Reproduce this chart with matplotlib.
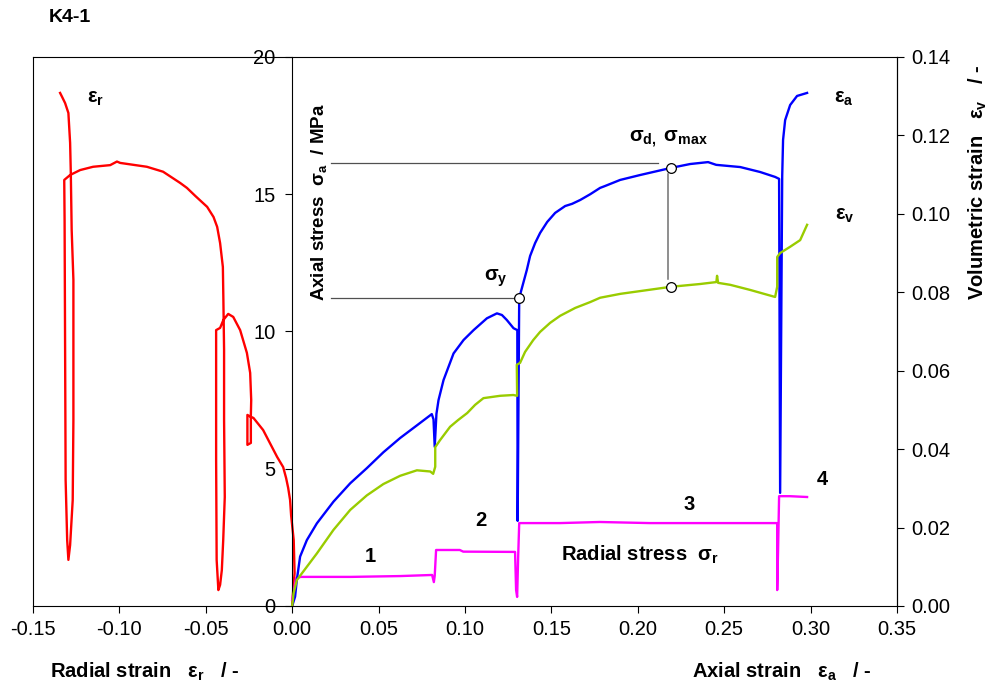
import numpy as np
import matplotlib
matplotlib.use('Agg')
import matplotlib.pyplot as plt

plt.rcParams['font.family'] = ['Liberation Sans', 'DejaVu Sans']
plt.rcParams['mathtext.fontset'] = 'custom'
plt.rcParams['mathtext.rm'] = 'Liberation Sans'
plt.rcParams['mathtext.it'] = 'Liberation Sans:italic'
plt.rcParams['mathtext.bf'] = 'Liberation Sans:bold'
plt.rcParams['axes.unicode_minus'] = False

# axial stress vs axial strain (sigma_a / eps_a)
ea_sa = [0, 0.0017, 0.0027, 0.0046, 0.0085, 0.0143, 0.0239, 0.0336, 0.0432, 0.0528, 0.0625,
         0.0722, 0.0808, 0.0818, 0.0825, 0.0835, 0.0847, 0.0876, 0.0934, 0.0992, 0.105, 0.1127,
         0.1185, 0.1214, 0.1242, 0.1281, 0.1303, 0.1305, 0.1314, 0.1358, 0.1377, 0.1406, 0.1435,
         0.1476, 0.1522, 0.158, 0.162, 0.1667, 0.1725, 0.1782, 0.1811, 0.1898, 0.2014, 0.2193,
         0.2303, 0.2407, 0.2454, 0.2593, 0.2708, 0.2795, 0.2818, 0.2824, 0.2836, 0.2841, 0.2853,
         0.2882, 0.2922, 0.298]
sa = [0, 0.34, 0.95, 1.8, 2.4, 3.01, 3.8, 4.47, 5.02, 5.6, 6.12,
      6.58, 6.99, 6.8, 5.8, 7.0, 7.5, 8.23, 9.2, 9.69, 10.05, 10.48,
      10.66, 10.6, 10.42, 10.12, 10.05, 3.1, 11.22, 12.24, 12.75, 13.22, 13.59,
      13.99, 14.32, 14.57, 14.65, 14.79, 15.0, 15.23, 15.3, 15.52, 15.7, 15.96,
      16.1, 16.17, 16.07, 15.99, 15.81, 15.63, 15.56, 4.12, 15.66, 16.98, 17.7,
      18.25, 18.58, 18.69]

# axial stress vs radial strain (eps_r)
er = [0, 0.0006, 0.0014, 0.0009, -0.0006, -0.0012, -0.0023, -0.0035, -0.0052, -0.0087, -0.0168,
      -0.0224, -0.0243, -0.0259, -0.0259, -0.0239, -0.0239, -0.0237, -0.0243, -0.0262, -0.0301,
      -0.0341, -0.037, -0.0398, -0.0417, -0.044, -0.044, -0.0437, -0.0427, -0.0417, -0.0407,
      -0.0399, -0.039, -0.0394, -0.0394, -0.0398, -0.0401, -0.0417, -0.0434, -0.0455, -0.0492,
      -0.0561, -0.0609, -0.0648, -0.0747, -0.0841, -0.0995, -0.1014, -0.1053, -0.1152, -0.1227,
      -0.1285, -0.1319, -0.1317, -0.1314, -0.1311, -0.1302, -0.1295, -0.1285, -0.127, -0.1266,
      -0.1266, -0.1276, -0.1281, -0.1285, -0.1295, -0.1314, -0.1331, -0.1343]
sa_er = [0, 0.58, 1.2, 2.4, 3.3, 3.86, 4.3, 4.66, 5.06, 5.43, 6.41,
         6.85, 6.9, 6.96, 5.87, 5.94, 6.96, 7.5, 8.49, 9.22, 10.05,
         10.53, 10.64, 10.42, 10.13, 10.05, 5.32, 1.68, 0.58, 0.77, 1.31,
         2.4, 3.97, 6.78, 9.33, 11.15, 12.35, 13.22, 13.81, 14.17, 14.54,
         14.94, 15.23, 15.41, 15.82, 16.0, 16.14, 16.19, 16.06, 16.0, 15.88,
         15.7, 15.52, 14.06, 9.33, 4.59, 2.4, 1.68, 2.22, 3.86, 6.78,
         11.88, 13.7, 15.77, 16.87, 17.96, 18.32, 18.54, 18.69]

# volumetric strain vs axial strain
ea_ev = [0, 0.0008, 0.0027, 0.0085, 0.0143, 0.0239, 0.0336, 0.0432, 0.0528, 0.0625, 0.0722,
         0.0799, 0.0816, 0.0828, 0.0828, 0.0856, 0.0914, 0.096, 0.1013, 0.1059, 0.1107, 0.1204,
         0.128, 0.1302, 0.1300, 0.1319, 0.1348, 0.1395, 0.1435, 0.1493, 0.1551, 0.1638, 0.1725,
         0.1782, 0.19, 0.2014, 0.2193, 0.236, 0.2455, 0.2459, 0.2465, 0.2535, 0.265, 0.2795,
         0.2807, 0.2807, 0.2824, 0.2882, 0.294, 0.298]
ev = [0, 0.0032, 0.0066, 0.01, 0.0134, 0.0194, 0.0245, 0.0282, 0.0311, 0.0332, 0.0346,
      0.0343, 0.0337, 0.0355, 0.0405, 0.0423, 0.0457, 0.0474, 0.0492, 0.0513, 0.053, 0.0536,
      0.0538, 0.0536, 0.0615, 0.062, 0.0648, 0.0678, 0.0699, 0.0722, 0.074, 0.076, 0.0775,
      0.0786, 0.0796, 0.0803, 0.0814, 0.0821, 0.0826, 0.0842, 0.0824, 0.0819, 0.0806, 0.0788,
      0.0814, 0.089, 0.09, 0.0916, 0.0933, 0.0972]

# radial (confining) stress vs axial strain
ea_sr = [0, 0.001, 0.0023, 0.005, 0.034, 0.0625, 0.081, 0.082, 0.0825, 0.0833, 0.097, 0.099,
         0.129, 0.1296, 0.1302, 0.1308, 0.1314, 0.155, 0.178, 0.207, 0.236, 0.2807, 0.2807,
         0.2812, 0.2818, 0.288, 0.298]
sr = [0.22, 0.58, 1.02, 1.06, 1.06, 1.09, 1.13, 0.87, 1.1, 2.04, 2.04, 1.98,
      1.97, 0.58, 0.33, 1.8, 3.02, 3.02, 3.06, 3.02, 3.02, 3.02, 0.58,
      2.0, 4.0, 4.0, 3.97]

# characteristic points
ea_y, sa_y = 0.1314, 11.22
ea_d, sa_d, ev_d = 0.2193, 15.96, 0.0814

x_ticks = [-0.15, -0.10, -0.05, 0.00, 0.05, 0.10, 0.15, 0.20, 0.25, 0.30, 0.35]
y_ticks = [0, 5, 10, 15, 20]
v_ticks = [0.00, 0.02, 0.04, 0.06, 0.08, 0.10, 0.12, 0.14]

fig = plt.figure(figsize=(9.9, 6.88), dpi=100)
ax = fig.add_axes([0.0333, 0.1192, 0.8727, 0.798])
ax2 = ax.twinx()

lw = 1.7
ax.plot(er, sa_er, color='#FF0000', lw=lw)
ax.plot(ea_sr, sr, color='#FF00FF', lw=lw)
ax.plot(ea_sa, sa, color='#0000FF', lw=lw)
ax2.plot(ea_ev, ev, color='#99CC00', lw=lw)

# guide lines for yield and peak stress
ax.plot([0.0226, ea_y - 0.002], [sa_y, sa_y], color='#505050', lw=0.9)
ax.plot([0.0226, 0.212], [16.15, 16.15], color='#505050', lw=0.9)
ax.plot([0.2175, 0.2175], [15.75, 11.9], color='#707070', lw=1.1)
ax.plot([ea_y], [sa_y], 'o', ms=7, mfc='white', mec='black', mew=0.9)
ax.plot([ea_d], [sa_d], 'o', ms=7, mfc='white', mec='black', mew=0.9)
ax2.plot([ea_d], [ev_d], 'o', ms=7, mfc='white', mec='black', mew=0.9)

ax.set_xlim(-0.15, 0.35)
ax.set_ylim(0, 20)
ax2.set_ylim(0, 0.14)

ax.spines['left'].set_position(('data', 0))
ax.axvline(-0.15, color='black', lw=0.8, clip_on=False)
for s in ['top', 'bottom', 'left', 'right']:
    ax.spines[s].set_linewidth(0.8)
for s in ['top', 'bottom', 'left']:
    ax2.spines[s].set_visible(False)
ax2.spines['right'].set_linewidth(0.8)

ax.set_xticks(x_ticks)
ax.set_xticklabels([f'{t:.2f}' for t in x_ticks])
ax.set_yticks(y_ticks)
ax.set_yticklabels([str(t) for t in y_ticks])
ax2.set_yticks(v_ticks)
ax2.set_yticklabels([f'{t:.2f}' for t in v_ticks])
ax.tick_params(axis='both', direction='out', length=5, width=0.8, labelsize=14.5, pad=5)
ax.tick_params(axis='y', pad=7)
ax2.tick_params(axis='y', direction='out', length=5, width=0.8, labelsize=14.5, pad=5)
for lbl in ax.get_yticklabels():
    lbl.set_bbox(dict(facecolor='white', edgecolor='none', pad=1))

bold = dict(fontweight='bold', fontsize=14.5)
ax.text(0.0155, 14.7, r'Axial stress  σ$_\mathbf{a}$  / MPa', rotation=90,
        ha='center', va='center', fontweight='bold', fontsize=13.5)
ax.text(-0.114, 18.5, r'ε$_\mathbf{r}$', ha='center', va='center', **bold)
ax.text(0.319, 18.5, r'ε$_\mathbf{a}$', ha='center', va='center', **bold)
ax.text(0.320, 14.24, r'ε$_\mathbf{v}$', ha='center', va='center', **bold)
ax.text(0.2176, 17.0, r'σ$_\mathbf{d,}$ σ$_\mathbf{max}$', ha='center', va='center', **bold)
ax.text(0.118, 11.95, r'σ$_\mathbf{y}$', ha='center', va='center', **bold)
ax.text(0.045, 1.8, '1', ha='center', va='center', **bold)
ax.text(0.109, 3.13, '2', ha='center', va='center', **bold)
ax.text(0.230, 3.68, '3', ha='center', va='center', **bold)
ax.text(0.3067, 4.6, '4', ha='center', va='center', **bold)
ax.text(0.201, 1.86, r'Radial stress  σ$_\mathbf{r}$', ha='center', va='center', **bold)

fig.text(0.049, 0.975, 'K4-1', ha='left', va='center', fontweight='bold', fontsize=14)
fig.text(0.146, 0.023, r'Radial strain   ε$_\mathbf{r}$   / -', ha='center', va='center', **bold)
fig.text(0.79, 0.023, r'Axial strain   ε$_\mathbf{a}$   / -', ha='center', va='center', **bold)
fig.text(0.988, 0.735, r'Volumetric strain   ε$_\mathbf{v}$   / -', rotation=90,
         ha='center', va='center', **bold)

fig.savefig('out.png', dpi=100)
